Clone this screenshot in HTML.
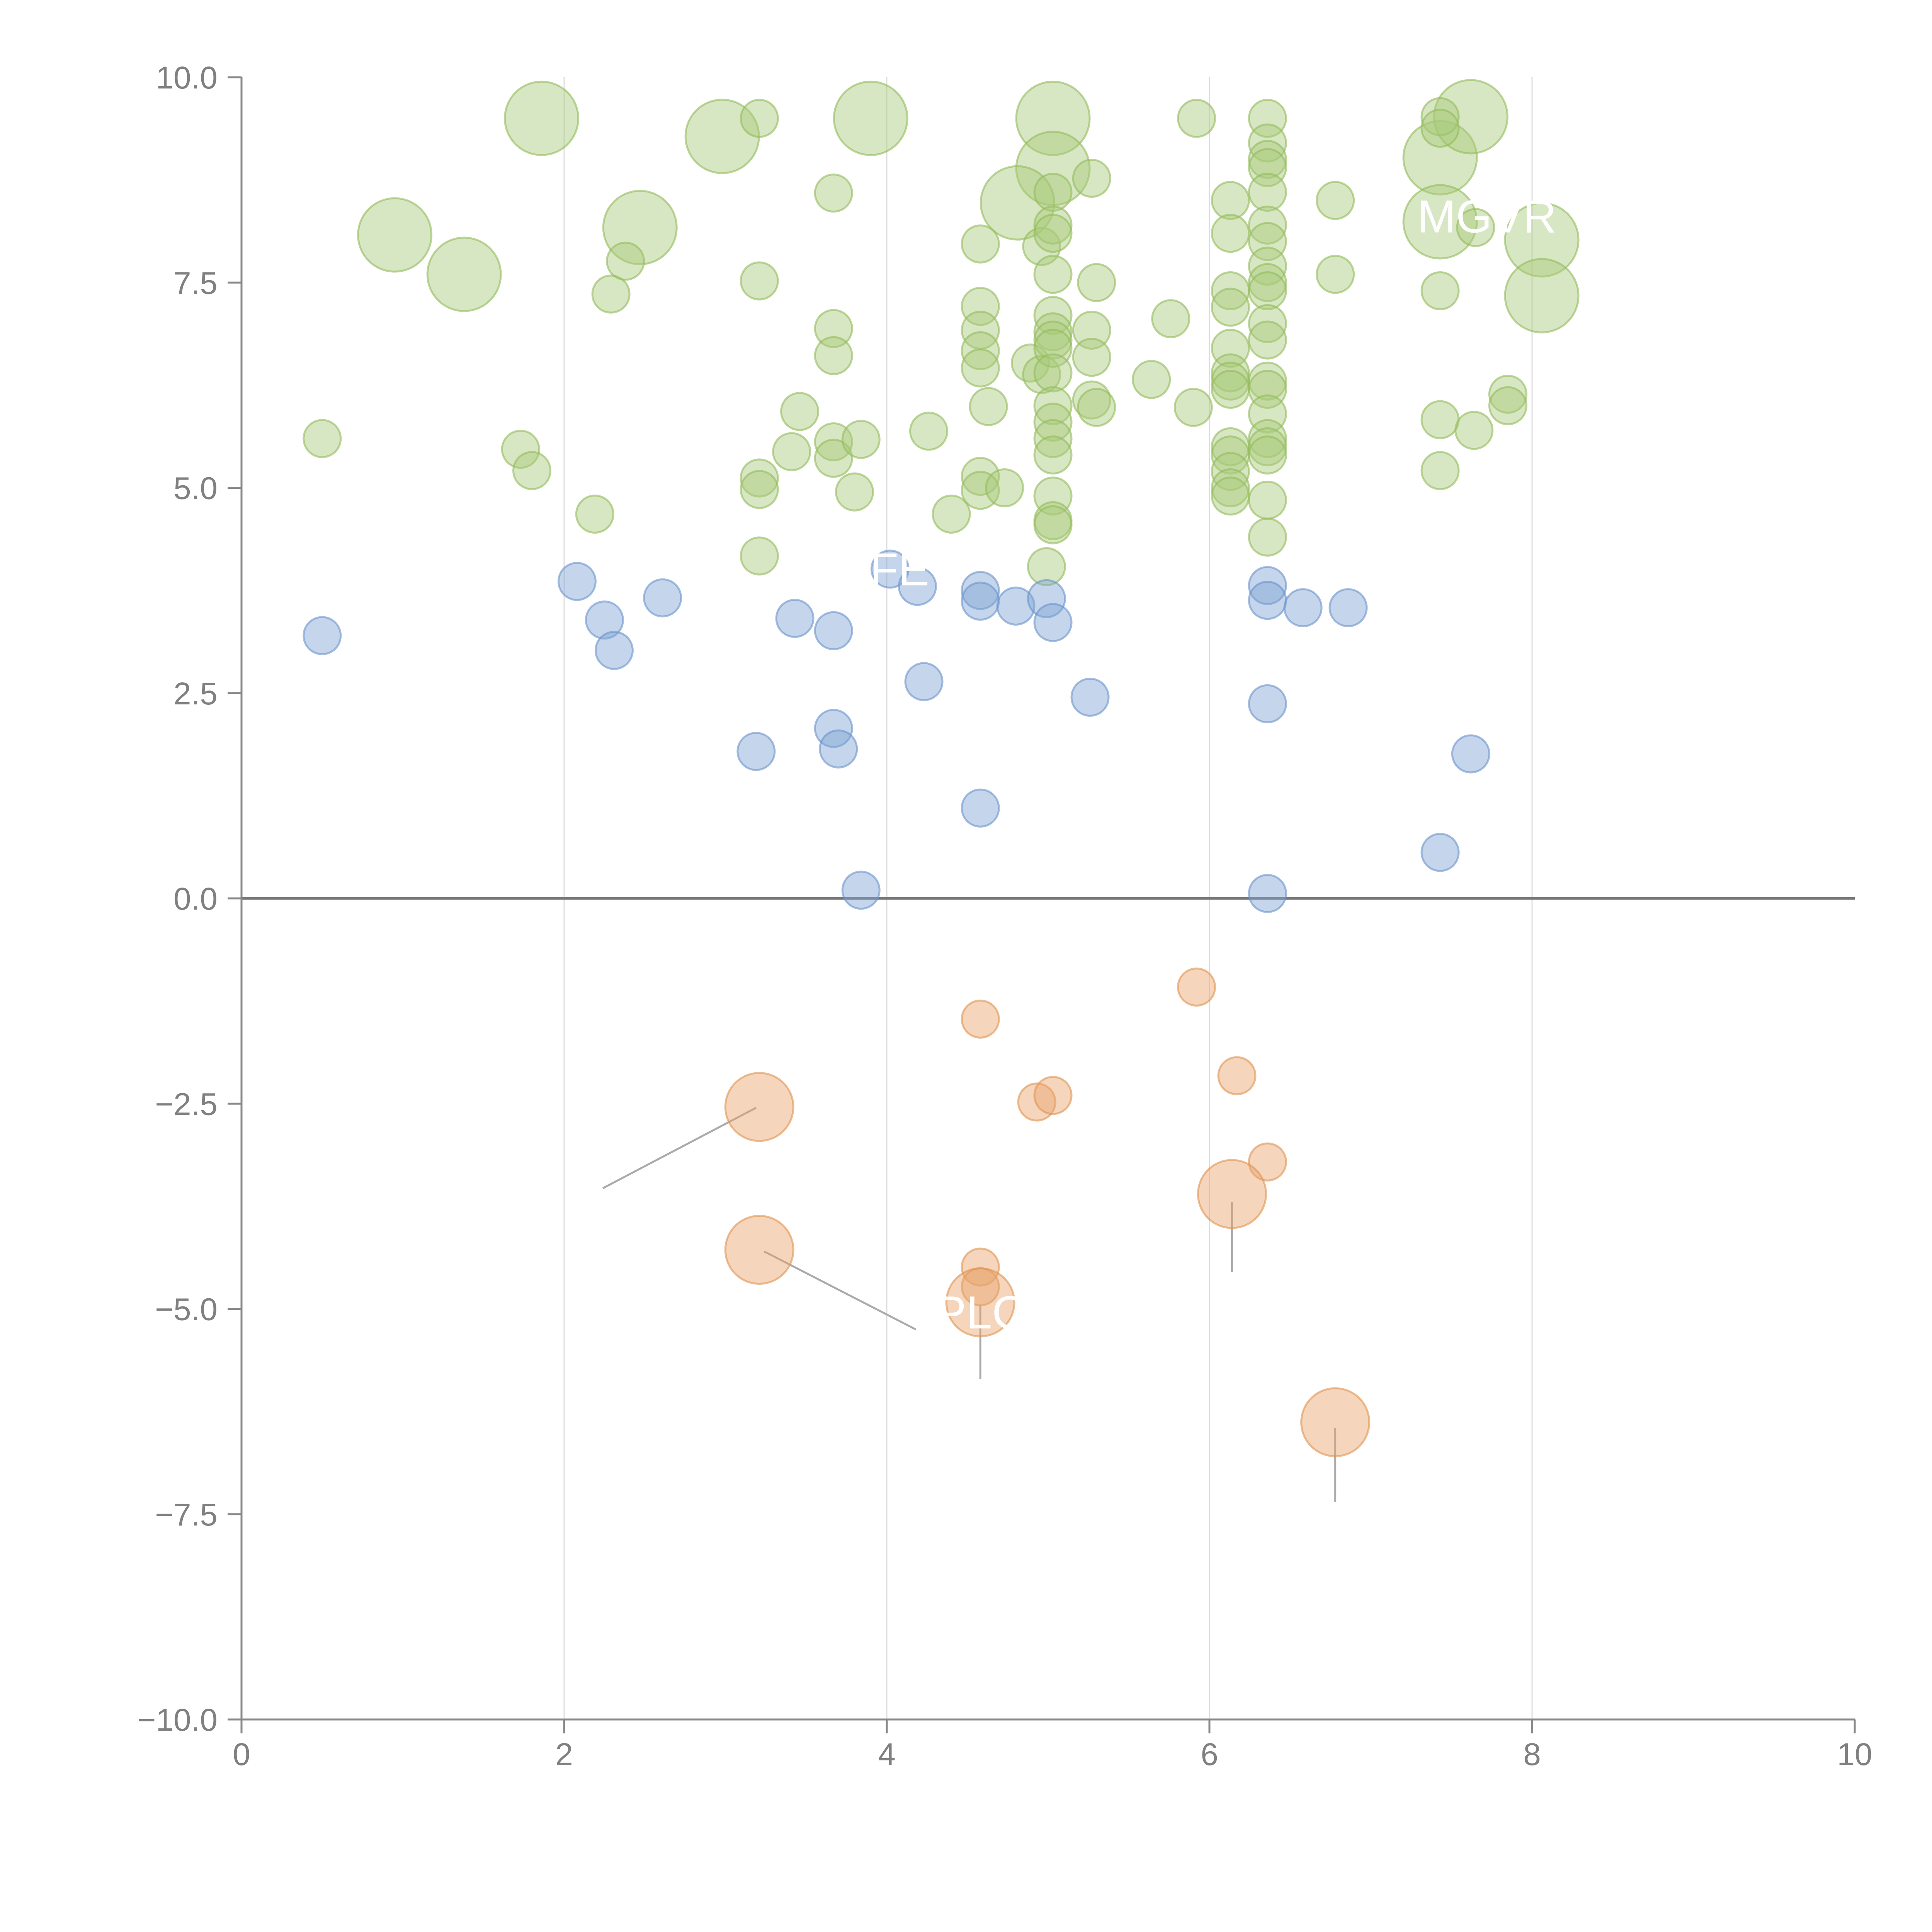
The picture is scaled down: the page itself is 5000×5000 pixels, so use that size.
<!DOCTYPE html>
<html><head><meta charset="utf-8"><style>
html,body{margin:0;padding:0;background:#fff}
svg{display:block}
text{font-family:"Liberation Sans",sans-serif;fill:#808080}
</style></head><body>
<svg id="chart" width="5000" height="5000" viewBox="0 0 5000 5000" xmlns="http://www.w3.org/2000/svg"></svg>
<script>
const xTicks=[0,2,4,6,8,10];
const yTicks=[-10,-7.5,-5,-2.5,0,2.5,5,7.5,10];
const yTickLabels=["\u221210.0","\u22127.5","\u22125.0","\u22122.5","0.0","2.5","5.0","7.5","10.0"];
const greenX=[1.86,0.95,1.38,2.47,2.98,3.9,5.03,5.03,4.81,7.43,7.43,7.62,8.06,8.06,
0.5,1.73,1.8,2.19,2.29,2.38,3.21,3.21,3.21,3.21,3.21,3.41,3.46,3.67,3.67,3.67,3.67,3.67,3.8,3.84,4.26,4.4,4.58,4.58,4.58,4.58,4.58,4.58,4.58,4.63,4.73,4.89,4.96,4.96,4.99,
5.03,5.03,5.03,5.03,5.03,5.03,5.03,5.03,5.03,5.03,5.03,5.03,5.03,5.03,5.03,5.03,
5.27,5.3,5.27,5.27,5.27,5.3,5.64,5.76,5.9,5.92,
6.13,6.13,6.13,6.13,6.13,6.13,6.13,6.13,6.13,6.13,6.13,6.13,6.13,
6.36,6.36,6.36,6.36,6.36,6.36,6.36,6.36,6.36,6.36,6.36,6.36,6.36,6.36,6.36,6.36,6.36,6.36,6.36,6.36,
6.78,6.78,7.43,7.43,7.43,7.43,7.64,7.65,7.85,7.85,7.43];
const greenY=[9.5,8.08,7.6,8.17,9.28,9.5,9.5,8.89,8.47,9.02,8.24,9.52,8.02,7.34,
5.6,5.47,5.21,4.68,7.36,7.76,9.5,7.52,5.12,4.98,4.17,5.44,5.93,8.59,6.94,6.61,5.56,5.36,4.95,5.59,5.69,4.68,7.97,7.21,6.92,6.67,6.46,5.14,4.97,5.99,5.0,6.52,7.94,6.38,4.04,
8.6,8.2,8.1,7.6,7.1,6.9,6.8,6.7,6.4,6.0,5.8,5.6,5.4,4.9,4.6,4.55,
8.77,7.5,6.92,6.59,6.07,5.98,6.32,7.06,5.98,9.5,
8.5,8.1,7.4,7.2,6.7,6.4,6.3,6.2,5.5,5.4,5.2,5.0,4.9,
9.5,9.2,9.0,8.9,8.6,8.2,8.0,7.7,7.5,7.4,7.0,6.8,6.3,6.2,5.9,5.6,5.5,5.4,4.85,4.4,
8.5,7.6,9.52,7.4,5.83,5.21,5.7,8.17,6.14,6.0,9.38];
const greenSize=[2,2,2,2,2,2,2,2,2,2,2,2,2,2];
const blueX=[0.5,2.08,2.25,2.31,2.61,3.19,3.43,3.67,3.67,3.7,3.84,4.02,4.19,4.23,4.58,4.58,4.58,4.8,4.99,5.03,5.26,6.36,6.36,6.36,6.36,6.58,6.86,7.43,7.62];
const blueY=[3.2,3.86,3.39,3.02,3.66,1.79,3.41,3.26,2.07,1.82,0.1,4.01,3.8,2.64,3.75,3.62,1.1,3.56,3.65,3.36,2.45,3.81,3.63,2.37,0.06,3.54,3.54,0.56,1.76];
const orangeX=[5.92,4.58,6.17,4.93,5.03,6.36,4.58,4.58,3.21,3.21,4.58,6.14,6.78];
const orangeY=[-1.08,-1.47,-2.16,-2.48,-2.4,-3.21,-4.49,-4.73,-2.54,-4.28,-4.92,-3.6,-6.38];
const orangeSize=[1,1,1,1,1,1,1,1,2,2,2,2,2];

const X0=625,X1=4800,Y0=4450,Y1=200;
const sx=v=>X0+(v-0)/(10-0)*(X1-X0);
const sy=v=>Y0-(v+10)/20*(Y0-Y1);
const NS="http://www.w3.org/2000/svg";
const svg=document.getElementById('chart');
function mk(tag,attrs){const e=document.createElementNS(NS,tag);for(const k in attrs)e.setAttribute(k,attrs[k]);svg.appendChild(e);return e;}

xTicks.forEach(t=>{if(t>0&&t<10){const g=mk('line',{x1:sx(t),x2:sx(t),y1:Y1,y2:Y0,stroke:'#dcdcdc','stroke-width':3});

}});
const z=mk('line',{x1:X0,x2:X1,y1:sy(0),y2:sy(0),stroke:'#777','stroke-width':7});


const ya=mk('line',{x1:X0,x2:X0,y1:Y1,y2:Y0,stroke:'#888','stroke-width':5});


const xa=mk('line',{x1:X0,x2:X1,y1:Y0,y2:Y0,stroke:'#888','stroke-width':5});


xTicks.forEach(t=>{
 const l=mk('line',{x1:sx(t),x2:sx(t),y1:Y0,y2:Y0+36,stroke:'#888','stroke-width':5});
 
 
 const tx=mk('text',{x:sx(t),y:Y0+118,'font-size':82,'text-anchor':'middle'});
 tx.textContent=t;
 
 
});
yTicks.forEach((t,i)=>{
 const l=mk('line',{x1:X0-36,x2:X0,y1:sy(t),y2:sy(t),stroke:'#888','stroke-width':5});
 
 
 const tx=mk('text',{x:X0-62,y:sy(t)+29,'font-size':82,'text-anchor':'end'});
 tx.textContent=yTickLabels[i];
 
 
});
const leadX1=[3.19,3.24,4.58,6.14,6.78];
const leadY1=[-2.55,-4.3,-4.95,-3.7,-6.45];
const leadX2=[2.24,4.18,4.58,6.14,6.78];
const leadY2=[-3.53,-5.25,-5.85,-4.55,-7.35];
leadX1.forEach((v,i)=>{const l=mk('line',{x1:sx(v),y1:sy(leadY1[i]),x2:sx(leadX2[i]),y2:sy(leadY2[i]),stroke:'#aaa','stroke-width':5});

});

function dots(xs,ys,sizes,fill,stroke,name){
 xs.forEach((v,i)=>{
  const s=sizes[i]||1;
  const r=s===2?(name==='orange-point'?88:95):48;
  const c=mk('circle',{cx:sx(v),cy:sy(ys[i]),r:r,fill:fill,'fill-opacity':0.45,stroke:stroke,'stroke-opacity':0.6,'stroke-width':5});
  
  
 });
}
dots(greenX,greenY,greenSize,'#a9c97a','#93bb5a','green-point');
dots(blueX,blueY,[],'#7fa3d4','#6a92cc','blue-point');
dots(orangeX,orangeY,orangeSize,'#e9a46c','#e0924f','orange-point');

const labTx=["MGVR","PLC","FE"];
const labX=[7.72,4.58,4.08];
const labY=[8.3,-5.05,4.0];
labTx.forEach((t,i)=>{const tx=mk('text',{x:sx(labX[i]),y:sy(labY[i])+40,'font-size':120,'text-anchor':'middle',style:'fill:#fff'});
tx.textContent=t;

});
</script>
</body></html>
